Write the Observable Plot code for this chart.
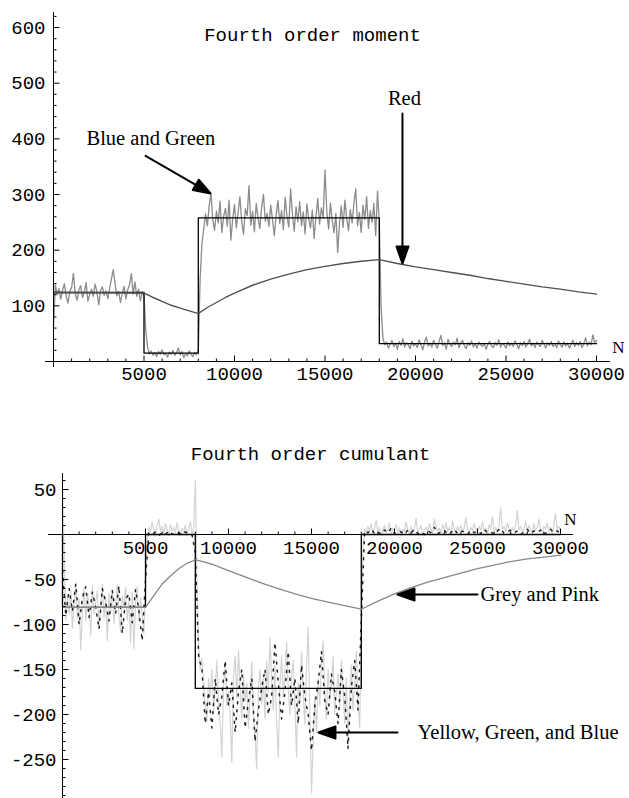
<!DOCTYPE html>
<html><head><meta charset="utf-8">
<script src="https://cdn.jsdelivr.net/npm/d3@7"></script>
<script src="https://cdn.jsdelivr.net/npm/@observablehq/plot@0.6"></script>
<style>html,body{margin:0;padding:0;background:#fff;} #chart svg{display:block;}</style>
</head><body><div id="chart"></div>
<script>
// ---------- Top panel: Fourth order moment ----------
const topTitle = "Fourth order moment";
const topXTicks = [5000, 10000, 15000, 20000, 25000, 30000];
const topYTicks = [100, 200, 300, 400, 500, 600];
// true (step) value
const topStepN = [0, 5000, 8000, 18000, 30000];
const topStepV = [124, 15, 258, 32, 32];
// "Red" smooth estimate
const redN = [0, 5000, 5500, 6000, 6500, 7000, 7500, 8000, 8500, 9000, 9500, 10000, 11000, 12000, 13000, 14000, 15000, 16000, 17000, 18000, 19000, 20000, 21000, 22000, 23000, 24000, 25000, 26000, 27000, 28000, 29000, 30000];
const redV = [124, 123, 115, 108, 101, 96, 91, 86, 97, 106, 115, 123, 137, 148, 157, 165, 171, 176, 180, 183, 176, 170, 165, 160, 155, 149, 144, 139, 134, 130, 125, 121];
// "Blue and Green" noisy estimate, N = 0, 100, ..., 30000
const blueGreenV = [
  62,138,120,131,112,128,140,118,105,126, 133,158,122,110,129,136,115,124,142,108,
  121,130,117,139,125,102,128,134,119,127, 113,131,148,165,140,118,126,106,123,135,
  112,129,138,158,121,143,117,130,109,125,
  118,55,25,14,19,11,16,9,18,13, 21,12,15,8,17,13,20,11,16,24, 12,18,7,14,10,19,13,9,16,12,
  20,148,212,238,265,244,280,302,255,236, 270,249,288,232,261,275,243,290,218,256,
  282,240,268,296,251,229,274,262,316,245, 270,233,284,258,239,277,300,252,266,243,
  281,255,226,263,289,248,271,237,295,260, 242,310,265,234,278,251,287,244,269,229,
  283,256,240,272,221,261,293,247,276,258, 344,270,238,285,253,231,266,196,248,279,
  241,290,257,235,273,249,286,310,244,268, 232,281,255,296,239,271,250,284,226,306,
  250,98,42,30,35,24,31,38,27,33, 22,36,29,41,26,34,30,23,37,28,
  32,25,39,30,21,35,44,28,33,26, 38,31,24,36,47,29,34,22,40,31,
  27,35,30,42,25,33,38,28,23,34, 29,37,26,32,24,35,30,27,33,22,
  31,36,28,25,34,29,39,26,32,30, 24,35,28,33,27,37,31,23,34,29,
  36,26,32,40,28,33,25,35,30,27, 38,31,24,34,29,36,27,32,25,37,
  30,26,35,28,33,24,31,38,27,34, 29,36,25,32,43,28,35,30,48,33,
  38
];
const blueGreenStep = 100;

// ---------- Bottom panel: Fourth order cumulant ----------
const botTitle = "Fourth order cumulant";
const botXTicks = [5000, 10000, 15000, 20000, 25000, 30000];
const botYTicks = [50, -50, -100, -150, -200, -250];
const botStepN = [0, 0, 5000, 8000, 18000, 30000];
const botStepV = [0, -81, 0, -171, 0, 0];
// "Grey and Pink" smooth estimate
const pinkN = [0, 5000, 5500, 6000, 6500, 7000, 7500, 8000, 9000, 10000, 11000, 12000, 13000, 14000, 15000, 16000, 17000, 18000, 19000, 20000, 21000, 22000, 23000, 24000, 25000, 26000, 27000, 28000, 29000, 30000];
const pinkV = [-81, -81, -68, -55, -46, -38, -32, -28, -33, -40, -47, -54, -60, -66, -71, -75, -79, -83, -74, -66, -59, -53, -48, -43, -38, -34, -30, -27, -25, -23];
// "Yellow" noisy estimate (light), N = 0, 100, ..., 30000
const yellowV = [
  52,-20,-95,-70,-88,-62,-104,-75,-58,-92, -71,-128,-84,-60,-96,-66,-79,-112,-57,-88,
  -74,-63,-101,-80,-55,-93,-70,-118,-65,-86, -61,-99,-77,-56,-90,-108,-68,-83,-59,-95,
  -73,-120,-64,-127,-78,-58,-97,-70,-88,-110,
  -60,-5,8,3,14,5,-2,10,17,4, 9,1,12,6,-1,11,4,8,2,13, 5,-1,7,3,10,0,6,14,2,8,
  60,-45,-125,-150,-138,-165,-190,-208,-160,-180, -150,-195,-172,-140,-185,-210,-247,-168,-145,-190,
  -175,-200,-253,-160,-135,-182,-129,-170,-205,-155, -185,-165,-215,-178,-142,-198,-225,-260,-170,-150,
  -188,-160,-205,-140,-175,-115,-162,-195,-145,-210, -247,-168,-135,-180,-150,-120,-172,-200,-158,-140,
  -190,-247,-165,-185,-130,-175,-210,-150,-103,-195, -287,-230,-180,-220,-160,-190,-145,-118,-172,-205,
  -150,-185,-165,-135,-200,-175,-155,-190,-140,-170, -210,-160,-234,-180,-145,-195,-165,-130,-185,-215,
  -120,-15,6,2,9,4,12,1,7,16, 3,8,-1,5,10,2,6,13,0,7,
  4,11,2,8,-2,6,3,14,5,1, 9,4,7,18,2,6,10,-1,5,8,
  3,12,6,1,17,9,4,7,2,11, 5,13,3,8,0,15,6,2,9,4,
  10,3,7,19,5,1,8,4,12,6, 2,9,5,14,3,7,0,11,6,20,
  4,8,2,10,29,5,9,3,13,6, 1,8,4,11,26,5,9,2,7,14,
  3,10,6,1,12,4,8,17,5,2, 9,6,13,3,8,1,11,23,5,9,
  4
];
const yellowStep = 100;
// "Green and Blue" noisy estimates (dark, dashed), N = 0, 200, ..., 30000
const greenBlueV = [
  -40,-90,-60,-85,-55,-100,-70,-58,-92,-64,-80,-105,-60,-75,-96,-62,-88,-57,-110,-72,-66,-98,-61,-84,-118,
  -50,2,0,3,-1,2,0,4,1,-1,2,0,3,1,0,
  -20,-135,-150,-210,-175,-215,-160,-200,-180,-140, -190,-165,-220,-175,-150,-215,-185,-160,-230,-195,
  -170,-150,-200,-180,-120,-165,-205,-175,-130,-190, -160,-210,-145,-180,-200,-240,-190,-165,-130,-185,
  -200,-155,-175,-210,-150,-180,-238,-170,-140,-195,
  -95,4,2,6,1,3,0,5,2,7, 1,4,3,0,5,2,6,1,3,0, 4,2,8,1,3,5,0,2,6,1,
  4,3,0,5,2,4,1,6,2,3, 0,4,7,1,3,5,2,4,0,3, 6,1,4,2,5,0,3,6,2,4, 1
];
const greenBlueStep = 200;

// ---------- helpers ----------
const monoFont = "Liberation Mono";
const serifFont = "Liberation Serif";
const tickShape = {draw(ctx, l) { ctx.moveTo(0, 0); ctx.lineTo(0, -l); }};
const arrowShape = {draw(ctx, l) {
  const h = 17, w = 6;
  ctx.moveTo(0, 0); ctx.lineTo(0, -l + h);
  ctx.moveTo(0, -l); ctx.lineTo(-w, -l + h); ctx.lineTo(w, -l + h); ctx.closePath();
}};
const series = (vals, step) => vals.map((v, i) => ({N: i * step, v}));
const pairs = (xs, ys) => xs.map((x, i) => ({N: x, v: ys[i]}));
const minorOf = (lo, hi, step, major) => d3.range(lo, hi + 1, step).filter(d => d % major !== 0);

function axisMarks({xMajor, xMinor, yMajor, yMinor, xLabels, yLabels, yLabelDx, xLabelDy}) {
  const tk = {anchor: "start", shape: tickShape, stroke: "#000", strokeWidth: 1, strokeLinecap: "butt"};
  const font = {fontFamily: monoFont, fontSize: 19, fill: "#000"};
  return [
    Plot.vector(xMajor, {x: d => d, y: () => 0, length: 6, rotate: 0, ...tk}),
    Plot.vector(xMinor, {x: d => d, y: () => 0, length: 3, rotate: 0, ...tk}),
    Plot.vector(yMajor, {x: () => 0, y: d => d, length: 6, rotate: 90, ...tk}),
    Plot.vector(yMinor, {x: () => 0, y: d => d, length: 3, rotate: 90, ...tk}),
    Plot.text(xLabels, {x: d => d, y: () => 0, dy: xLabelDy, text: d => String(d), ...font}),
    Plot.text(yLabels, {x: () => 0, y: d => d, dx: yLabelDx, textAnchor: "end", text: d => String(d), ...font})
  ];
}

// ---------- top chart ----------
const topChart = Plot.plot({
  width: 629, height: 400,
  marginLeft: 53, marginRight: 33, marginTop: 12, marginBottom: 39,
  x: {domain: [0, 30000], axis: null},
  y: {domain: [0, 627], axis: null},
  style: {background: "white", overflow: "visible"},
  marks: [
    Plot.line(series(blueGreenV, blueGreenStep), {x: "N", y: "v", stroke: "#8c8c8c", strokeWidth: 1.3}),
    Plot.line(pairs(topStepN, topStepV), {x: "N", y: "v", curve: "step-after", stroke: "#000", strokeWidth: 1.3}),
    Plot.line(pairs(redN, redV), {x: "N", y: "v", stroke: "#505050", strokeWidth: 1.4}),
    Plot.ruleX([0], {stroke: "#000", strokeWidth: 1, insetBottom: -6}),
    Plot.ruleY([0], {stroke: "#000", strokeWidth: 1, insetLeft: -8, insetRight: -14}),
    ...axisMarks({
      xMajor: topXTicks, xMinor: minorOf(1000, 30000, 1000, 5000),
      yMajor: topYTicks, yMinor: minorOf(20, 620, 20, 100),
      xLabels: topXTicks, yLabels: topYTicks, yLabelDx: -8, xLabelDy: 12
    }),
    Plot.text([topTitle], {x: () => 14310, y: () => 587, text: d => d, fontFamily: monoFont, fontSize: 19}),
    Plot.text(["N"], {x: () => 30000, y: () => 0, dx: 22, dy: -14, text: d => d, fontFamily: serifFont, fontSize: 17}),
    Plot.text(["Blue and Green"], {x: () => 1823, y: () => 400, text: d => d, textAnchor: "start", fontFamily: serifFont, fontSize: 20.5}),
    Plot.text(["Red"], {x: () => 19390, y: () => 472, text: d => d, fontFamily: serifFont, fontSize: 20.5}),
    Plot.vector([0], {x: () => 8674, y: () => 302, length: 75, rotate: 120, anchor: "end", shape: arrowShape, stroke: "#000", fill: "#000", strokeWidth: 2}),
    Plot.vector([0], {x: () => 19280, y: () => 176, length: 150, rotate: 180, anchor: "end", shape: arrowShape, stroke: "#000", fill: "#000", strokeWidth: 2})
  ]
});

// ---------- bottom chart ----------
const botChart = Plot.plot({
  width: 629, height: 398,
  marginLeft: 62, marginRight: 69, marginTop: 73, marginBottom: 0,
  x: {domain: [0, 30000], axis: null},
  y: {domain: [-293.3, 67.8], axis: null},
  style: {background: "white", overflow: "visible"},
  marks: [
    Plot.line(series(yellowV, yellowStep), {x: "N", y: "v", stroke: "#d3d3d3", strokeWidth: 1.2}),
    Plot.line(series(greenBlueV, greenBlueStep), {x: "N", y: "v", stroke: "#222", strokeWidth: 1.5, strokeDasharray: "2,6"}),
    Plot.line(pairs(botStepN, botStepV), {x: "N", y: "v", curve: "step-after", stroke: "#000", strokeWidth: 1.3}),
    Plot.line(pairs(pinkN, pinkV), {x: "N", y: "v", stroke: "#888", strokeWidth: 1.3}),
    Plot.ruleX([0], {stroke: "#000", strokeWidth: 1}),
    Plot.ruleY([0], {stroke: "#000", strokeWidth: 1, insetLeft: -14, insetRight: -13}),
    ...axisMarks({
      xMajor: botXTicks, xMinor: minorOf(1000, 30000, 1000, 5000),
      yMajor: botYTicks, yMinor: minorOf(-290, 60, 10, 50),
      xLabels: botXTicks, yLabels: botYTicks, yLabelDx: -6, xLabelDy: 13
    }),
    Plot.text([botTitle], {x: () => 14940, y: () => 90, text: d => d, fontFamily: monoFont, fontSize: 19}),
    Plot.text(["N"], {x: () => 30000, y: () => 0, dx: 10, dy: -15, text: d => d, fontFamily: serifFont, fontSize: 17}),
    Plot.text(["Grey and Pink"], {x: () => 25180, y: () => -66.7, text: d => d, textAnchor: "start", fontFamily: serifFont, fontSize: 20.5}),
    Plot.text(["Yellow, Green, and Blue"], {x: () => 21390, y: () => -220, text: d => d, textAnchor: "start", fontFamily: serifFont, fontSize: 20.5}),
    Plot.vector([0], {x: () => 20180, y: () => -66.7, length: 80, rotate: 270, anchor: "end", shape: arrowShape, stroke: "#000", fill: "#000", strokeWidth: 2}),
    Plot.vector([0], {x: () => 15420, y: () => -220, length: 79, rotate: 270, anchor: "end", shape: arrowShape, stroke: "#000", fill: "#000", strokeWidth: 2})
  ]
});

const root = document.getElementById("chart");
root.appendChild(topChart);
root.appendChild(botChart);
</script></body></html>
